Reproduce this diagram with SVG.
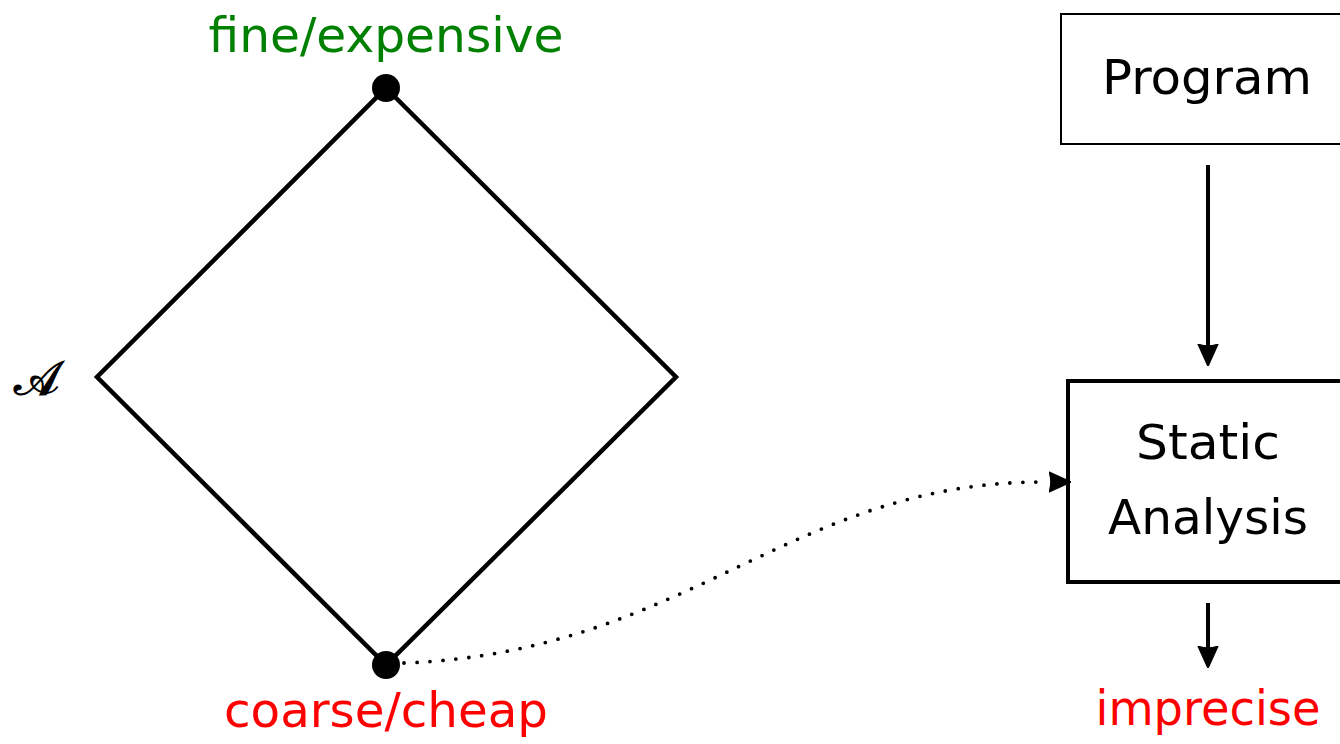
<svg xmlns="http://www.w3.org/2000/svg" width="1340" height="744" viewBox="0 0 1340 744">
<defs>
<style>
text{font-family:"DejaVu Sans","Liberation Sans",sans-serif;font-size:48px;text-anchor:middle}
.edge{stroke:#000;stroke-width:4;fill:none}
</style>
<marker id="ah" viewBox="0 0 10 10" refX="9" refY="5" markerWidth="22" markerHeight="22" orient="auto" markerUnits="userSpaceOnUse">
<path d="M0,0.5 L10,5 L0,9.5 Q1.5,5 0,0.5 Z" fill="#000" stroke="#000" stroke-width="0.6" stroke-linejoin="round"/>
</marker>
</defs>
<rect width="1340" height="744" fill="#fff"/>
<g id="lattice">
<path d="M386,88 L676,377 L386,665 L97,377 Z" fill="none" stroke="#000" stroke-width="4.5" stroke-linejoin="miter"/>
<text x="36" y="395" font-family="Liberation Serif, serif" font-size="64" stroke="#000" stroke-width="1.2">𝒜</text>
</g>
<g id="top">
<circle cx="386" cy="88" r="14" fill="#000"/>
<text x="386" y="52" fill="#008000" textLength="355" lengthAdjust="spacingAndGlyphs">fine/expensive</text>
</g>
<g id="bottom">
<circle cx="386" cy="665" r="14" fill="#000"/>
<text x="386" y="727" fill="#ff0000" textLength="324" lengthAdjust="spacingAndGlyphs">coarse/cheap</text>
</g>
<g id="program">
<rect x="1061" y="14" width="300" height="130" fill="none" stroke="#000" stroke-width="2"/>
<text x="1207" y="94" textLength="210" lengthAdjust="spacingAndGlyphs">Program</text>
</g>
<g id="analysis">
<rect x="1068" y="381" width="300" height="201" fill="none" stroke="#000" stroke-width="4"/>
<text x="1208" y="459" textLength="144" lengthAdjust="spacingAndGlyphs">Static</text>
<text x="1208" y="534" textLength="200" lengthAdjust="spacingAndGlyphs">Analysis</text>
</g>
<g id="imprecise">
<text x="1208" y="725" fill="#ff0000" textLength="225" lengthAdjust="spacingAndGlyphs">imprecise</text>
</g>
<g id="connectors">
<line class="edge" x1="1208" y1="165" x2="1208" y2="364" marker-end="url(#ah)"/>
<line class="edge" x1="1208" y1="603" x2="1208" y2="666" marker-end="url(#ah)"/>
<path d="M404,663 C690,652 790,480 1048,482" fill="none" stroke="#000" stroke-width="3.8" stroke-dasharray="0 13" stroke-linecap="round"/>
<path d="M1046,482 L1069,482" fill="none" stroke="#000" stroke-width="4" marker-end="url(#ah)" stroke-opacity="0"/>
</g>
</svg>
